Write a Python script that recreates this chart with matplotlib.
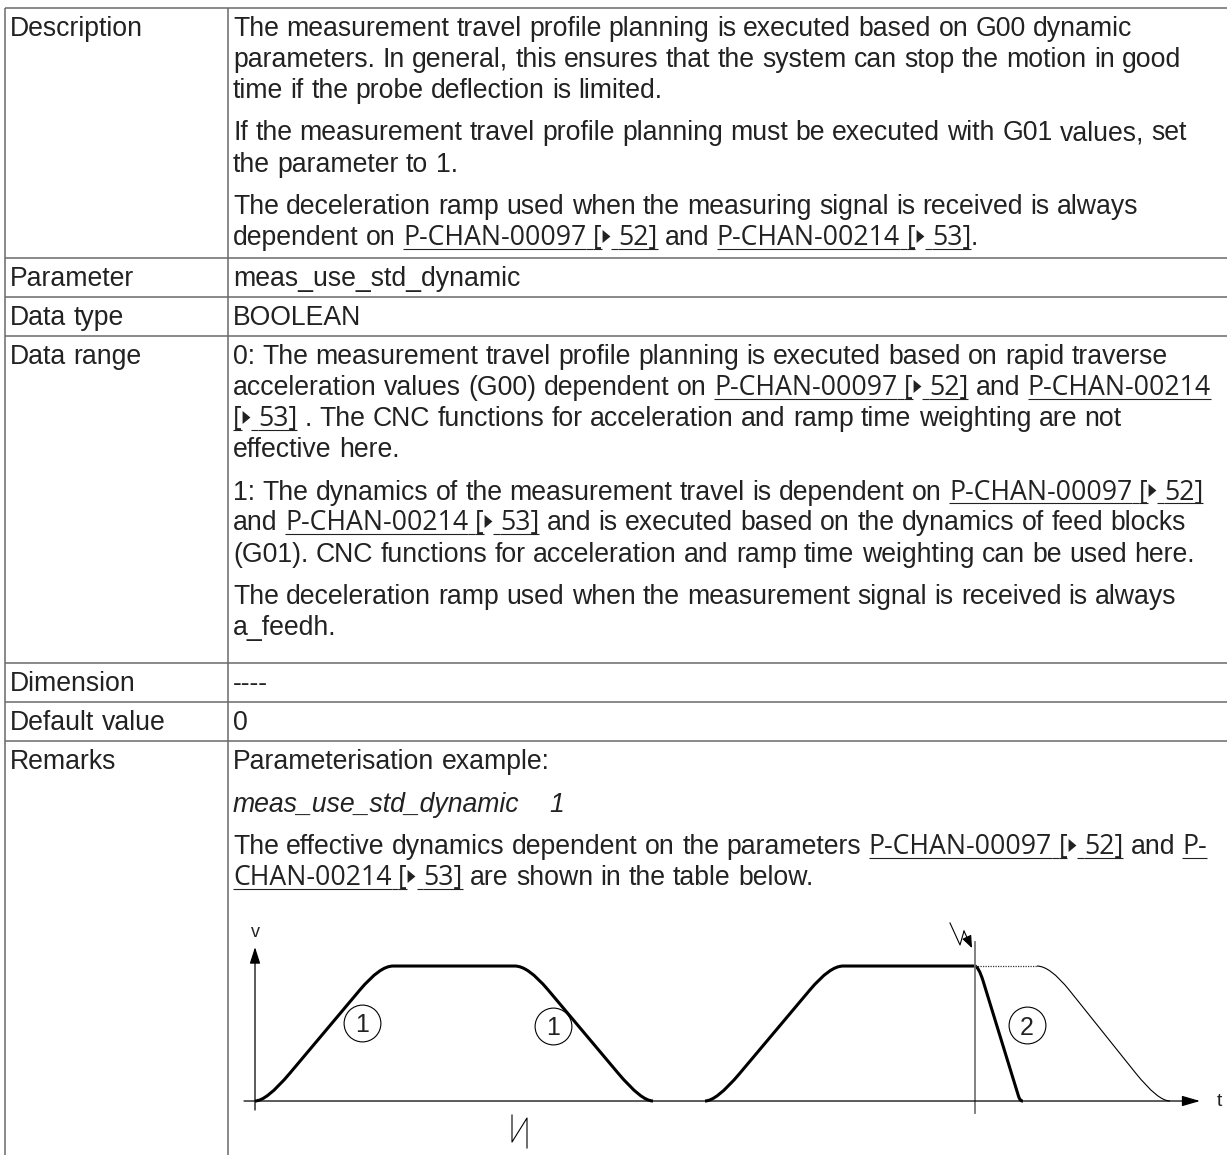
import re
import numpy as np
import matplotlib
matplotlib.use("Agg")
import matplotlib.pyplot as plt
from matplotlib.path import Path
from matplotlib.patches import PathPatch
from matplotlib.font_manager import FontProperties

# ---------------- table content ----------------
row_labels = ["Description", "Parameter", "Data type", "Data range",
              "Dimension", "Default value", "Remarks"]

description_paras = [
    ["The measurement travel profile planning is executed based on G00 dynamic",
     "parameters. In general, this ensures that the system can stop the motion in good",
     "time if the probe deflection is limited."],
    ["If the measurement travel profile planning must be executed with G01 values, set",
     "the parameter to 1."],
    ["The deceleration ramp used when the measuring signal is received is always",
     "dependent on {P-CHAN-00097 [\u25B6 52]} and {P-CHAN-00214 [\u25B6 53]}."],
]
parameter_paras = [["meas_use_std_dynamic"]]
datatype_paras = [["BOOLEAN"]]
datarange_paras = [
    ["0: The measurement travel profile planning is executed based on rapid traverse",
     "acceleration values (G00) dependent on {P-CHAN-00097 [\u25B6 52]} and {P-CHAN-00214}",
     "{[\u25B6 53]} . The CNC functions for acceleration and ramp time weighting are not",
     "effective here."],
    ["1: The dynamics of the measurement travel is dependent on {P-CHAN-00097 [\u25B6 52]}",
     "and {P-CHAN-00214 [\u25B6 53]} and is executed based on the dynamics of feed blocks",
     "(G01). CNC functions for acceleration and ramp time weighting can be used here."],
    ["The deceleration ramp used when the measurement signal is received is always",
     "a_feedh."],
]
dimension_paras = [["----"]]
default_paras = [["0"]]
remarks_paras = [
    ["Parameterisation example:"],
    ["<meas_use_std_dynamic    1>"],
    ["The effective dynamics dependent on the parameters {P-CHAN-00097 [\u25B6 52]} and {P-}",
     "{CHAN-00214 [\u25B6 53]} are shown in the table below."],
]
row_contents = [description_paras, parameter_paras, datatype_paras, datarange_paras,
                dimension_paras, default_paras, remarks_paras]

# ---------------- diagram data (time units, v relative to cruise speed) ----------------
feed_t = [0.0, 1.15, 12.5, 27.3, 38.65, 39.8]
feed_v = [0, 0, 1, 1, 0, 0]
meas_t = [45.0, 46.15, 57.5, 72.35, 76.5, 76.8]
meas_v = [0, 0, 1, 1, 0, 0]
hold_t = [72.0, 78.2]
hold_v = [1, 1]
planned_t = [78.2, 79.5, 90.3, 91.5]
planned_v = [1, 1, 0, 0]
signal_t = 72.0
circle_t = [10.7, 29.8, 77.2]
circle_v = [0.578, 0.556, 0.563]
circle_lbl = ["1", "1", "2"]
signal_zig_t = [69.5, 70.5, 70.9, 71.7]
signal_zig_v = [1.319, 1.156, 1.259, 1.133]
break_t = [25.7, 25.7, 27.2, 27.2]
break_v = [-0.104, -0.304, -0.126, -0.348]

# ---------------- layout / style ----------------
W, H = 1227, 1155
TEXT = "#222222"
GRID = "#6a6a6a"
FS = 19.2
row_tops = [8, 258, 297, 336, 663, 702, 741]
COL_DIV = 228
LEFT = 5
X1, X2 = 10, 233
LINE_STEP = 31
PARA_STEP = 42.5

fig = plt.figure(figsize=(W / 100, H / 100), dpi=100)
ax = fig.add_axes([0, 0, 1, 1])
ax.set_xlim(0, W)
ax.set_ylim(H, 0)
ax.axis("off")
renderer = fig.canvas.get_renderer()

props = {
    "body": FontProperties(family="Liberation Sans", size=FS),
    "italic": FontProperties(family="Liberation Sans", style="italic", size=FS),
    "link": FontProperties(family="Open Sans", size=FS),
}


def text_w(s, fp):
    t = ax.text(0, 0, s, fontproperties=fp)
    w = t.get_window_extent(renderer=renderer).width
    t.remove()
    return w


space_w = {k: text_w("a a", fp) - text_w("aa", fp) for k, fp in props.items()}
TRI_W = 9.5
tri_marker = [(-0.6, -1.0), (0.6, 0.0), (-0.6, 1.0), (-0.6, -1.0)]


def underline(x1, x2, y):
    ax.plot([x1, x2], [y + 3.5, y + 3.5], color=TEXT, lw=0.8, solid_capstyle="butt")


def draw_line(x0, y, line):
    x = x0
    for tok in re.findall(r"\{[^}]*\}|<[^>]*>|[^{<]+", line):
        if tok.startswith("{"):
            style, s = "link", tok[1:-1]
        elif tok.startswith("<"):
            style, s = "italic", tok[1:-1]
        else:
            style, s = "body", tok
        for piece in re.split("( +|\u25B6)", s):
            if not piece:
                continue
            if piece == "\u25B6":
                ax.plot(x + TRI_W / 2 - 0.5, y - 9.5, marker=tri_marker, ms=9.4,
                        color=TEXT, mew=0, ls="none")
                x += TRI_W
            elif piece.isspace():
                w = len(piece) * space_w[style]
                if style == "link":
                    underline(x, x + w, y)
                x += w
            else:
                t = ax.text(x, y, piece, fontproperties=props[style], color=TEXT,
                            ha="left", va="baseline")
                w = t.get_window_extent(renderer=renderer).width
                if style == "link":
                    underline(x, x + w, y)
                x += w


# table lines
for yt in row_tops:
    ax.plot([LEFT, W], [yt, yt], color=GRID, lw=1.1, solid_capstyle="butt")
for xv in (LEFT, COL_DIV):
    ax.plot([xv, xv], [row_tops[0], H], color=GRID, lw=1.1, solid_capstyle="butt")

# row texts
for top, label, paras in zip(row_tops, row_labels, row_contents):
    base = top + 28
    draw_line(X1, base, label)
    for p_i, para in enumerate(paras):
        if p_i > 0:
            base += PARA_STEP - LINE_STEP
        for line in para:
            draw_line(X2, base, line)
            base += LINE_STEP

# ---------------- diagram ----------------
dx0, dx1, dy0, dy1 = 230, W, 915, H
dax = fig.add_axes([dx0 / W, 1 - dy1 / H, (dx1 - dx0) / W, (dy1 - dy0) / H])
dax.set_xlim(-2.5, 97.2)
dax.set_ylim(-0.4, 1.378)
dax.axis("off")
dax.patch.set_alpha(0)


def rounded_path(ts, vs, radii):
    """Polyline with corners rounded by quadratic Bezier arcs; radii = (in, out) px."""
    pts = dax.transData.transform(np.column_stack([ts, vs]))
    verts = [pts[0]]
    codes = [Path.MOVETO]
    n = len(pts)
    for i in range(1, n - 1):
        p, c, q = pts[i - 1], pts[i], pts[i + 1]
        r_in, r_out = radii[i - 1]
        d1 = np.linalg.norm(p - c)
        d2 = np.linalg.norm(q - c)
        f1 = min(r_in / d1, 1.0 if i - 1 == 0 else 0.5)
        f2 = min(r_out / d2, 1.0 if i + 1 == n - 1 else 0.5)
        verts += [c + (p - c) * f1, c, c + (q - c) * f2]
        codes += [Path.LINETO, Path.CURVE3, Path.CURVE3]
    verts.append(pts[-1])
    codes.append(Path.LINETO)
    return Path(dax.transData.inverted().transform(np.array(verts)), codes)


# axes with arrows
dax.annotate("", xy=(94.5, 0), xytext=(-1.1, 0), annotation_clip=False,
             arrowprops=dict(arrowstyle="-|>,head_length=0.55,head_width=0.16",
                             mutation_scale=20, lw=0.9, color="black",
                             shrinkA=0, shrinkB=0))
dax.annotate("", xy=(0, 1.14), xytext=(0, -0.067), annotation_clip=False,
             arrowprops=dict(arrowstyle="-|>,head_length=0.5,head_width=0.16",
                             mutation_scale=20, lw=0.9, color="black",
                             shrinkA=0, shrinkB=0))
dax.text(96.2, 0, "t", fontsize=14, family="Liberation Sans", color=TEXT,
         ha="left", va="center")
dax.text(0, 1.25, "v", fontsize=13, family="Liberation Sans", color=TEXT,
         ha="center", va="center")

# signal line
dax.plot([signal_t, signal_t], [-0.089, 1.178], color="#777777", lw=1.3, clip_on=False)

# circles with numbers
for ct, cv, cl in zip(circle_t, circle_v, circle_lbl):
    dax.plot(ct, cv, marker="o", ms=26.5, mfc="none", mec="black", mew=0.8,
             ls="none", clip_on=False)
    dax.text(ct, cv, cl, fontsize=18, family="Liberation Sans", color=TEXT,
             ha="center", va="center_baseline")

# profiles
dax.add_patch(PathPatch(rounded_path(feed_t, feed_v,
                                     [(11.5, 36), (31, 13), (13, 31), (36, 11.5)]),
                        fc="none", ec="black", lw=2.2, clip_on=False))
dax.add_patch(PathPatch(rounded_path(meas_t, meas_v,
                                     [(11.5, 36), (31, 13), (4, 16), (5, 2.5)]),
                        fc="none", ec="black", lw=2.2, clip_on=False))
dax.plot(hold_t, hold_v, color="#333333", lw=0.9, ls=(0, (1, 1)), clip_on=False)
dax.add_patch(PathPatch(rounded_path(planned_t, planned_v, [(13, 31), (36, 12)]),
                        fc="none", ec="black", lw=0.8, clip_on=False))

# measuring signal zig-zag arrow
dax.plot(signal_zig_t[:3], signal_zig_v[:3], color="black", lw=0.8, clip_on=False)
dax.annotate("", xy=(signal_zig_t[3], signal_zig_v[3]),
             xytext=(signal_zig_t[2], signal_zig_v[2]), annotation_clip=False,
             arrowprops=dict(arrowstyle="-|>,head_length=0.5,head_width=0.2",
                             mutation_scale=15, lw=0.8, color="black",
                             shrinkA=0, shrinkB=0))

# time-axis break mark
dax.plot(break_t, break_v, color="black", lw=0.8, clip_on=False)

fig.savefig("out.png", dpi=100)
